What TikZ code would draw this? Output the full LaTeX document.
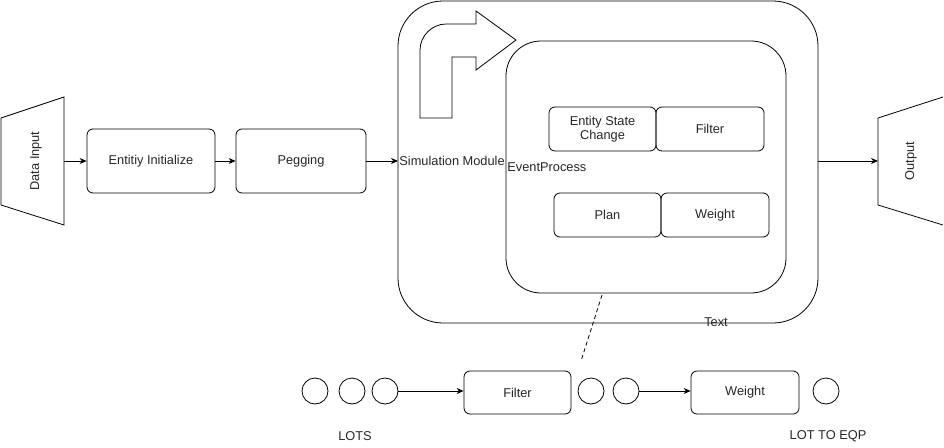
\documentclass[tikz,border=0pt]{standalone}
\usepackage{fontspec}
\setmainfont{Liberation Sans}
\usetikzlibrary{arrows.meta}
\begin{document}
\begin{tikzpicture}[x=1pt,y=-1pt,
  line width=0.8pt,
  every node/.style={font=\fontsize{12.8}{14.5}\selectfont, text=black!85},
  box/.style={draw, rounded corners=6pt, align=center, inner sep=0pt},
  lot/.style={draw, circle, minimum size=26pt, inner sep=0pt},
  conn/.style={-{Stealth[length=7pt,width=6pt]}},
  lbl/.style={inner sep=1pt}
]
\useasboundingbox (0,0) rectangle (944,447);

% Data Input trapezoid
\draw (1,118) -- (64,97) -- (64,225) -- (1,205) -- cycle;
\node[rotate=90] (din) at (36,161) {Data Input};
\coordinate (dinE) at (64,161);

% Output trapezoid
\draw (943,97) -- (878,118) -- (878,205) -- (943,225);
\node[rotate=90] (out) at (911,161) {Output};
\coordinate (outW) at (878,161);

% top row boxes
\node[box, minimum width=128pt, minimum height=64pt] (ent) at (151,161) {Entitiy Initialize};
\node[box, minimum width=130pt, minimum height=64pt] (peg) at (301,161) {Pegging};

% outer and inner modules
\draw[rounded corners=45pt] (398,1) rectangle (818,323);
\draw[rounded corners=35pt] (506,41) rectangle (786,293);
\coordinate (simE) at (818,161);

% bent arrow
\draw (420,118) -- (420,50) .. controls (420,36) and (432,24) .. (446,24) -- (476,24) -- (476,11) -- (516,40) -- (476,70) -- (476,57) -- (452,57) -- (452,118) -- cycle;

\node[lbl, anchor=west] (sim) at (398,161) {Simulation Module};
\node[lbl, anchor=west] (evp) at (506,167) {EventProcess};

% inner boxes
\node[box, minimum width=107pt, minimum height=44pt] (esc) at (602.5,129) {Entity State\\Change};
\node[box, minimum width=108pt, minimum height=44pt] (fil1) at (710,129) {Filter};
\node[box, minimum width=107pt, minimum height=44pt] (pln) at (607.5,215) {Plan};
\node[box, minimum width=108pt, minimum height=44pt] (wgt1) at (715,215) {Weight};

\node[lbl] (txt) at (716,322) {Text};

% connectors top
\draw[conn] (dinE) -- (ent.west);
\draw[conn] (ent.east) -- (peg.west);
\draw[conn] (peg.east) -- (sim.west);
\draw[conn] (simE) -- (outW);

% bottom row
\node[lot] (c1) at (315,391) {};
\node[lot] (c2) at (352,391) {};
\node[lot] (c3) at (385,391) {};
\node[box, minimum width=107pt, minimum height=43pt] (fil2) at (517.5,392.5) {Filter};
\node[lot] (c4) at (591,391) {};
\node[lot] (c5) at (626,391) {};
\node[box, minimum width=108pt, minimum height=43pt] (wgt2) at (745,392.5) {Weight};
\node[lot] (c6) at (826,391) {};

\draw[conn] (c3.east) -- (fil2.west |- c3.east);
\draw[conn] (c5.east) -- (wgt2.west |- c5.east);

\coordinate (dA) at (602,295);
\coordinate (dB) at (581,361);
\draw[dashed, dash pattern=on 4pt off 3pt] (dA) -- (dB);

\node[lbl] (lots) at (355,436) {LOTS};
\node[lbl] (lte) at (828,436) {LOT TO EQP};
\end{tikzpicture}
\end{document}
